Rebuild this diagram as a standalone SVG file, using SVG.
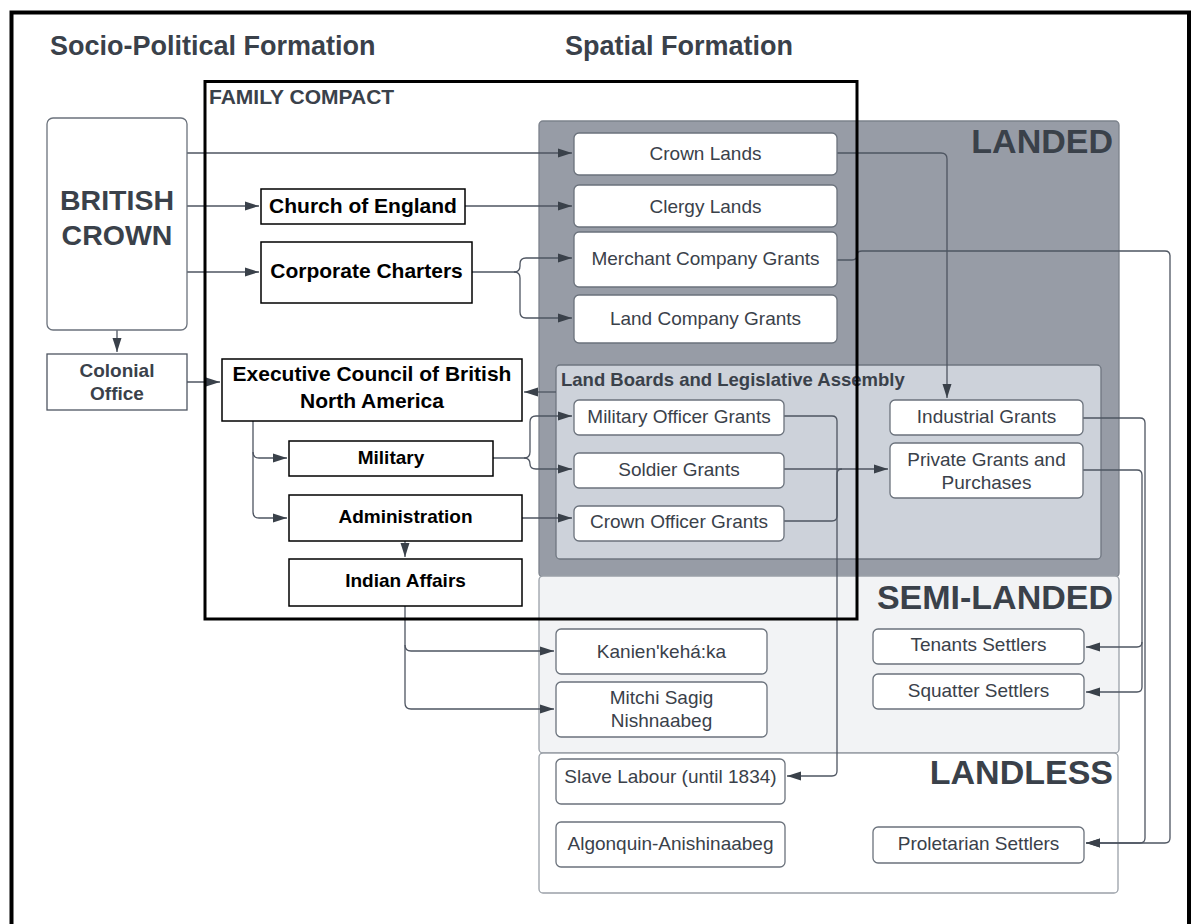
<svg xmlns="http://www.w3.org/2000/svg" width="1193" height="924" viewBox="0 0 1193 924">
<defs>
<marker id="ah" markerUnits="userSpaceOnUse" markerWidth="14" markerHeight="10" refX="14" refY="5" orient="auto">
<path d="M0,0.5 L14,5 L0,9.5 z" fill="#3a414a"/>
</marker>
<style>
.t{font-family:"Liberation Sans",Arial,sans-serif;fill:#3a414a}
.b{font-weight:bold}
.k{fill:#000}
.box{fill:#fff;stroke:#6b727c;stroke-width:1.3}
.bk{fill:#fff;stroke:#000;stroke-width:1.5}
.c{fill:none;stroke:#4e5561;stroke-width:1.3}
.ca{fill:none;stroke:#4e5561;stroke-width:1.3;marker-end:url(#ah)}
.n{font-size:19px;text-anchor:middle}
.m{text-anchor:middle}
</style>
</defs>
<rect x="0" y="0" width="1193" height="924" fill="#fff"/>
<rect x="11.5" y="12.5" width="1177.5" height="960" fill="none" stroke="#000" stroke-width="4"/>

<text class="t b" x="50" y="55" font-size="27">Socio-Political Formation</text>
<text class="t b" x="565" y="55" font-size="27">Spatial Formation</text>

<g id="landed">
<rect x="539" y="121" width="580" height="456" rx="4" fill="#979ca6" stroke="#7c828c" stroke-width="1.3"/>
<text class="t b" x="1113" y="153" font-size="34" text-anchor="end">LANDED</text>
</g>
<g id="semi-landed">
<rect x="539" y="576" width="580" height="177" rx="4" fill="#f2f3f5" stroke="#9aa0a8" stroke-width="1.3"/>
<text class="t b" x="1113" y="609" font-size="34" text-anchor="end">SEMI-LANDED</text>
</g>
<g id="landless">
<rect x="539" y="753" width="579" height="140" rx="4" fill="#fff" stroke="#9aa0a8" stroke-width="1.3"/>
<text class="t b" x="1113" y="784" font-size="34" text-anchor="end">LANDLESS</text>
</g>
<g id="land-boards">
<rect x="556" y="365" width="545" height="194" rx="4" fill="#cdd2da" stroke="#6f7680" stroke-width="1.3"/>
<text class="t b" x="561" y="386" font-size="18.5">Land Boards and Legislative Assembly</text>
</g>

<g id="connectors">
<path class="ca" d="M187,153 H572"/>
<path class="ca" d="M187,206 H259"/>
<path class="ca" d="M187,272 H259"/>
<path class="ca" d="M465,206 H572"/>
<path class="ca" d="M472,272 H514 Q520,272 520,266 V264 Q520,258 526,258 H572"/>
<path class="ca" d="M514,272 Q520,272 520,278 V312 Q520,318 526,318 H572"/>
<path class="ca" d="M837,153 H941 Q947,153 947,159 V398"/>
<path class="ca" d="M837,260 H852 Q857,260 857,255 Q857,251 862,251 H1165 Q1170,251 1170,256 V838 Q1170,843 1165,843 H1086"/>
<path class="ca" d="M117,330 V352"/>
<path class="ca" d="M187,382 H220"/>
<path class="ca" d="M556,392 H524"/>
<path class="ca" d="M253,421 V452 Q253,458 259,458 H287"/>
<path class="ca" d="M253,452 V512 Q253,518 259,518 H287"/>
<path class="ca" d="M405,541 V557"/>
<path class="ca" d="M493,458 H524 Q530,458 530,452 V422 Q530,416 536,416 H572"/>
<path class="ca" d="M524,458 Q530,458 530,464 Q530,469 536,469 H572"/>
<path class="ca" d="M522,518 H572"/>
<path class="ca" d="M784,416 H832 Q837,416 837,421 V771 Q837,776 832,776 H787"/>
<path class="ca" d="M784,469 H888"/>
<path class="c" d="M784,521 H832 Q837,521 837,516 V474 Q837,469 842,469"/>
<path class="ca" d="M1083,418 H1140 Q1145,418 1145,423 V838 Q1145,843 1140,843 H1086"/>
<path class="ca" d="M1083,470 H1137 Q1142,470 1142,475 V642 Q1142,647 1137,647 H1086"/>
<path class="ca" d="M1142,642 V687 Q1142,692 1137,692 H1086"/>
<path class="ca" d="M405,606 V645 Q405,651 411,651 H554"/>
<path class="ca" d="M405,645 V703 Q405,709 411,709 H554"/>
</g>

<g id="british-crown">
<rect class="box" x="47" y="118" width="140" height="212" rx="6"/>
<text class="t b m" x="117" y="210" font-size="28.5">BRITISH</text>
<text class="t b m" x="117" y="245" font-size="28.5">CROWN</text>
</g>
<g id="colonial-office">
<rect x="47" y="354" width="140" height="56" fill="#fff" stroke="#4e5561" stroke-width="1.3"/>
<text class="t b m" x="117" y="377" font-size="19">Colonial</text>
<text class="t b m" x="117" y="400" font-size="19">Office</text>
</g>
<g id="church-of-england">
<rect class="bk" x="261" y="189" width="204" height="35"/>
<text class="t b k m" x="363" y="213" font-size="21">Church of England</text>
</g>
<g id="corporate-charters">
<rect class="bk" x="261" y="242" width="211" height="61"/>
<text class="t b k m" x="366.5" y="278" font-size="21">Corporate Charters</text>
</g>
<g id="executive-council">
<rect class="bk" x="222" y="359" width="300" height="62"/>
<text class="t b k m" x="372" y="381" font-size="21">Executive Council of British</text>
<text class="t b k m" x="372" y="408" font-size="21">North America</text>
</g>
<g id="military">
<rect class="bk" x="289" y="441" width="204" height="35"/>
<text class="t b k m" x="391" y="464" font-size="19">Military</text>
</g>
<g id="administration">
<rect class="bk" x="289" y="495" width="233" height="46"/>
<text class="t b k m" x="405.5" y="523" font-size="19">Administration</text>
</g>
<g id="indian-affairs">
<rect class="bk" x="289" y="559" width="233" height="47"/>
<text class="t b k m" x="405.5" y="587" font-size="19">Indian Affairs</text>
</g>

<g id="crown-lands"><rect class="box" x="574" y="133" width="263" height="42" rx="5"/><text class="t n" x="705.5" y="160">Crown Lands</text></g>
<g id="clergy-lands"><rect class="box" x="574" y="185" width="263" height="42" rx="5"/><text class="t n" x="705.5" y="213">Clergy Lands</text></g>
<g id="merchant-company-grants"><rect class="box" x="574" y="232" width="263" height="55" rx="5"/><text class="t n" x="705.5" y="265">Merchant Company Grants</text></g>
<g id="land-company-grants"><rect class="box" x="574" y="295" width="263" height="48" rx="5"/><text class="t n" x="705.5" y="325">Land Company Grants</text></g>
<g id="military-officer-grants"><rect class="box" x="574" y="400" width="210" height="35" rx="5"/><text class="t n" x="679" y="423">Military Officer Grants</text></g>
<g id="soldier-grants"><rect class="box" x="574" y="453" width="210" height="35" rx="5"/><text class="t n" x="679" y="476">Soldier Grants</text></g>
<g id="crown-officer-grants"><rect class="box" x="574" y="506" width="210" height="35" rx="5"/><text class="t n" x="679" y="528">Crown Officer Grants</text></g>
<g id="industrial-grants"><rect class="box" x="890" y="400" width="193" height="35" rx="5"/><text class="t n" x="986.5" y="423">Industrial Grants</text></g>
<g id="private-grants"><rect class="box" x="890" y="443" width="193" height="55" rx="5"/><text class="t n" x="986.5" y="466">Private Grants and</text><text class="t n" x="986.5" y="489">Purchases</text></g>
<g id="kanienkehaka"><rect class="box" x="556" y="629" width="211" height="45" rx="5"/><text class="t n" x="661.5" y="658">Kanien'kehá:ka</text></g>
<g id="mitchi-sagig"><rect class="box" x="556" y="682" width="211" height="55" rx="5"/><text class="t n" x="661.5" y="704">Mitchi Sagig</text><text class="t n" x="661.5" y="727">Nishnaabeg</text></g>
<g id="tenants-settlers"><rect class="box" x="873" y="629" width="211" height="35" rx="5"/><text class="t n" x="978.5" y="651">Tenants Settlers</text></g>
<g id="squatter-settlers"><rect class="box" x="873" y="674" width="211" height="35" rx="5"/><text class="t n" x="978.5" y="697">Squatter Settlers</text></g>
<g id="slave-labour"><rect class="box" x="556" y="759" width="229" height="45" rx="5"/><text class="t n" x="670.5" y="783">Slave Labour (until 1834)</text></g>
<g id="algonquin"><rect class="box" x="556" y="822" width="229" height="45" rx="5"/><text class="t n" x="670.5" y="850">Algonquin-Anishinaabeg</text></g>
<g id="proletarian-settlers"><rect class="box" x="873" y="827" width="211" height="36" rx="5"/><text class="t n" x="978.5" y="850">Proletarian Settlers</text></g>

<g id="family-compact">
<rect x="205" y="81.5" width="652" height="537.5" fill="none" stroke="#000" stroke-width="3"/>
<text class="t b" x="209" y="104" font-size="21">FAMILY COMPACT</text>
</g>
</svg>
